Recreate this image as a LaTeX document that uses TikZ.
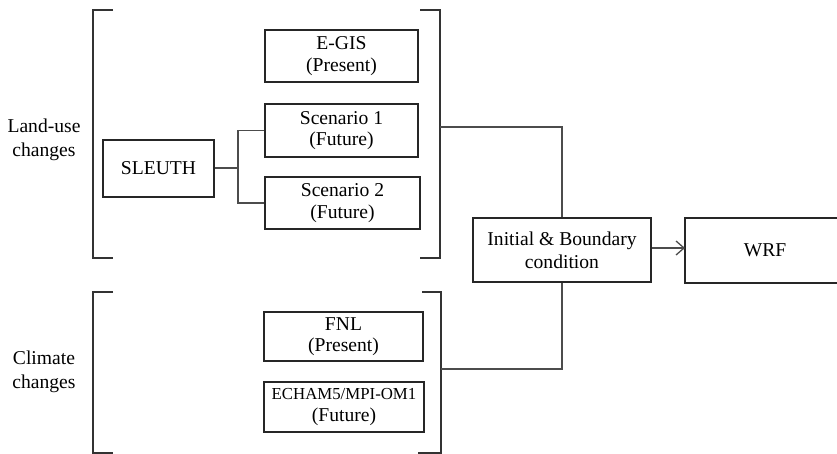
\documentclass[tikz,border=0pt]{standalone}
\usepackage{fontspec}
\setmainfont{Liberation Serif}
\usetikzlibrary{arrows.meta}
\begin{document}
\begin{tikzpicture}[x=1pt,y=-1pt,
  box/.style={draw=black!85,line width=1.6pt,align=center,inner sep=0pt,font=\fontsize{19.6}{21.5}\selectfont},
  lbl/.style={align=center,font=\fontsize{19.6}{24}\selectfont},
  brk/.style={draw=black!80,line width=1.8pt},
  con/.style={draw=black!70,line width=1.3pt}]
\useasboundingbox (0,0) rectangle (837,454);
% labels
\node[lbl] (land) at (44,140) {Land-use\\changes};
\node[lbl] (clim) at (44,372) {Climate\\changes};
% boxes
\node[box,minimum width=153pt,minimum height=52pt] (egis) at (341.5,56) {E-GIS\\(Present)};
\node[box,minimum width=153pt,minimum height=53pt] (sc1) at (341.5,130.5) {Scenario 1\\(Future)};
\node[box,minimum width=155pt,minimum height=52pt] (sc2) at (342.5,203) {Scenario 2\\(Future)};
\node[box,minimum width=111pt,minimum height=57pt] (sleuth) at (158.5,168.5) {SLEUTH};
\node[box,minimum width=159pt,minimum height=49pt] (fnl) at (343.5,336.5) {FNL\\(Present)};
\node[box,minimum width=160pt,minimum height=50pt] (echam) at (344,407) {{\fontsize{16.8}{21.5}\selectfont ECHAM5/MPI-OM1}\\(Future)};
\node[box,minimum width=178pt,minimum height=64pt,font=\fontsize{19.6}{23}\selectfont] (ibc) at (562,250) {Initial \& Boundary\\condition};
\node[align=center,inner sep=0pt,font=\fontsize{19.6}{21}\selectfont,minimum width=160pt,minimum height=65pt] (wrf) at (765,250.5) {WRF};
\draw[line width=1.6pt,draw=black!85] (837,218) -- (685,218) -- (685,283) -- (837,283);
% brackets
\draw[brk] (113,10) -- (93,10) -- (93,258) -- (113,258);
\draw[brk] (420,10) -- (440,10) -- (440,258) -- (420,258);
\draw[brk] (113,292) -- (93,292) -- (93,453) -- (113,453);
\draw[brk] (422,292) -- (441,292) -- (441,453) -- (418,453);
% connectors
\coordinate (jn) at (238,168);
\draw[con] (sleuth.east |- jn) -- (jn);
\draw[con] (sc1.west) -| (jn) |- (sc2.west);
\coordinate (topb) at (440,127);
\coordinate (botb) at (441,369);
\draw[con] (topb) -| (ibc.north);
\draw[con] (botb) -| (ibc.south);
\coordinate (arrt) at (685,248);
\draw[con,-{Straight Barb[length=8pt,width=14pt,line width=1.3pt]}] (ibc.east |- arrt) -- (arrt);
\end{tikzpicture}
\end{document}
